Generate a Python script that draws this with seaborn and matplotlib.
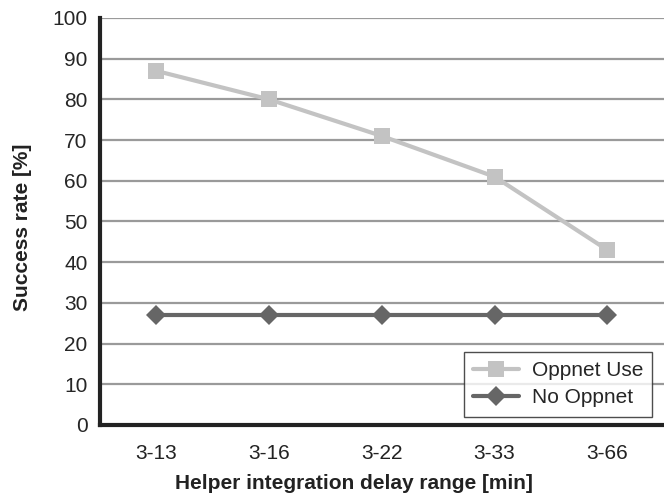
import numpy as np
import pandas as pd
import matplotlib
matplotlib.use('Agg')
import matplotlib.pyplot as plt
import seaborn as sns

categories = ['3-13', '3-16', '3-22', '3-33', '3-66']
oppnet_use = [87, 80, 71, 61, 43]
no_oppnet = [27, 27, 27, 27, 27]
series_names = ['Oppnet Use', 'No Oppnet']
y_ticks = [0, 10, 20, 30, 40, 50, 60, 70, 80, 90, 100]

sns.set_style('white')
plt.rcParams['font.family'] = ['Liberation Sans', 'DejaVu Sans']

df = pd.DataFrame({
    'x': list(range(len(categories))) * 2,
    'value': oppnet_use + no_oppnet,
    'series': [series_names[0]] * len(categories) + [series_names[1]] * len(categories),
})

fig = plt.figure(figsize=(6.64, 4.97), dpi=100)
ax = fig.add_axes([0.1506, 0.1449, 0.849, 0.8189])

for y in y_ticks[1:]:
    ax.axhline(y, color='#9a9a9a', lw=1.6, zorder=0)

sns.lineplot(data=df, x='x', y='value', hue='series', style='series',
             palette={'Oppnet Use': '#c3c3c3', 'No Oppnet': '#666666'},
             markers={'Oppnet Use': 's', 'No Oppnet': 'D'},
             dashes=False, lw=3, markeredgewidth=0,
             ax=ax, zorder=3)
for line in ax.lines:
    if line.get_marker() == 's':
        line.set_markersize(12)
    elif line.get_marker() == 'D':
        line.set_markersize(10)

ax.set_xlim(-0.5, len(categories) - 0.5)
ax.set_ylim(0, 100)
ax.set_yticks(y_ticks)
ax.set_xticks(np.arange(len(categories)))
ax.set_xticklabels(categories)
ax.set_xticks(np.arange(-0.5, len(categories)), minor=True)
ax.tick_params(axis='x', which='major', length=0, labelsize=15, pad=14, colors='#222222')
ax.tick_params(axis='x', which='minor', length=6, width=3, color='#222222', direction='out')
ax.tick_params(axis='y', length=6, width=3, color='#222222', labelsize=15, pad=3, direction='out')

for side in ['top', 'right']:
    ax.spines[side].set_visible(False)
for side in ['left', 'bottom']:
    ax.spines[side].set_linewidth(3)
    ax.spines[side].set_color('#222222')

ax.set_xlabel('Helper integration delay range [min]', fontsize=15, fontweight='bold', labelpad=12, color='#222222')
ax.xaxis.set_label_coords(0.45, -0.12)
ax.set_ylabel('Success rate [%]', fontsize=15, fontweight='bold', labelpad=14, color='#222222')
ax.yaxis.set_label_coords(-0.12, 0.485)

leg = ax.legend(loc='lower right', bbox_to_anchor=(0.98, 0.02), frameon=True, fancybox=False,
                fontsize=15, handlelength=2.2, borderpad=0.45, labelspacing=0.4,
                handletextpad=0.6, borderaxespad=0, title=None)
leg.get_frame().set_edgecolor('#222222')
leg.get_frame().set_linewidth(1)

fig.savefig('out.png', dpi=100)
